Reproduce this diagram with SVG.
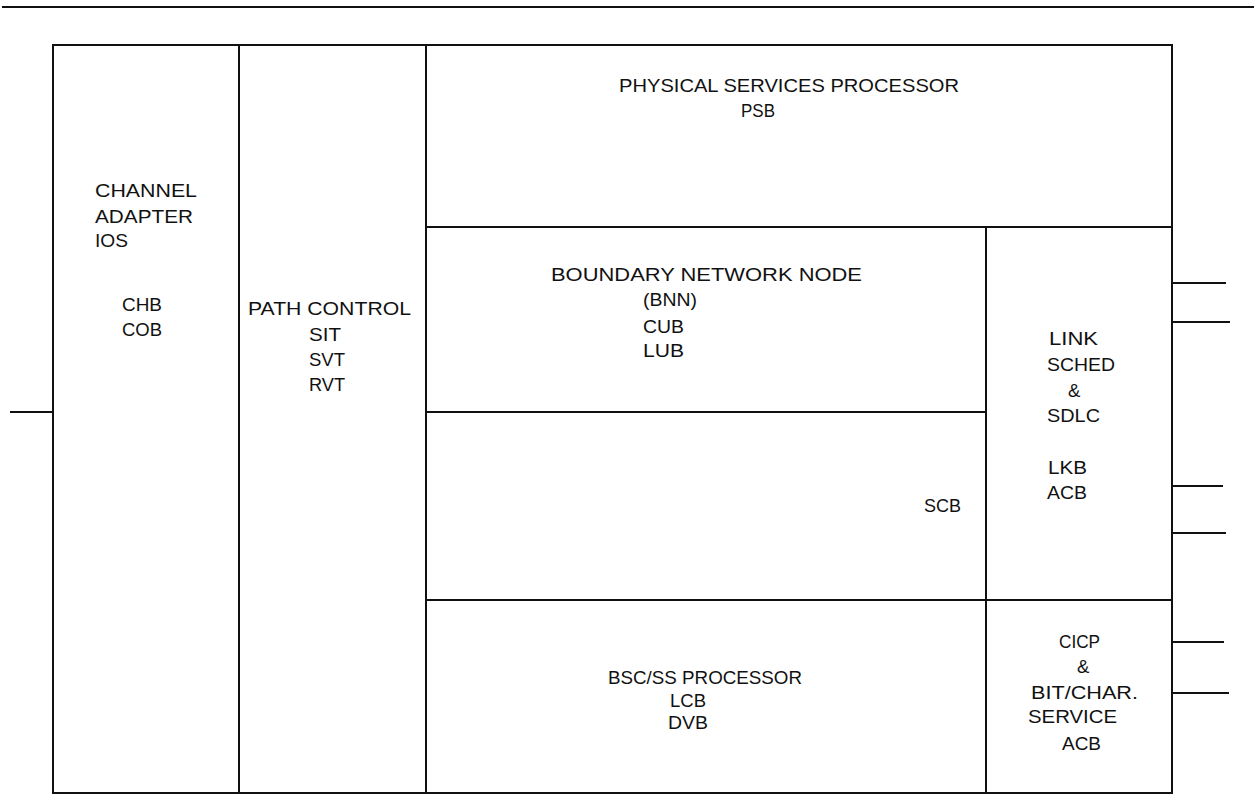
<svg xmlns="http://www.w3.org/2000/svg" width="1256" height="810" viewBox="0 0 1256 810">
<style>
text{font-family:"Liberation Sans",Arial,sans-serif;font-size:18.5px;fill:#111}
.l{stroke:#111;stroke-width:2;fill:none}
</style>
<rect width="1256" height="810" fill="#fff"/>
<g id="connectors">
<line class="l" x1="2" y1="7" x2="1254" y2="7" stroke-width="3"/>
<line class="l" x1="10" y1="412" x2="53" y2="412"/>
<line class="l" x1="1172" y1="283" x2="1226" y2="283"/>
<line class="l" x1="1172" y1="322" x2="1230" y2="322"/>
<line class="l" x1="1172" y1="486" x2="1223" y2="486"/>
<line class="l" x1="1172" y1="533" x2="1226" y2="533"/>
<line class="l" x1="1172" y1="642" x2="1224" y2="642"/>
<line class="l" x1="1172" y1="693" x2="1229" y2="693"/>
</g>
<g id="frame">
<rect class="l" x="53" y="45" width="1119" height="748"/>
</g>
<g id="channel-adapter">
<text x="95" y="197" textLength="102" lengthAdjust="spacingAndGlyphs">CHANNEL</text>
<text x="95" y="223" textLength="98" lengthAdjust="spacingAndGlyphs">ADAPTER</text>
<text x="95" y="247" textLength="33" lengthAdjust="spacingAndGlyphs">IOS</text>
<text x="122" y="311" textLength="40" lengthAdjust="spacingAndGlyphs">CHB</text>
<text x="122" y="336" textLength="40" lengthAdjust="spacingAndGlyphs">COB</text>
</g>
<g id="path-control">
<line class="l" x1="239" y1="45" x2="239" y2="793"/>
<text x="248" y="315" textLength="163" lengthAdjust="spacingAndGlyphs">PATH CONTROL</text>
<text x="309" y="341" textLength="32" lengthAdjust="spacingAndGlyphs">SIT</text>
<text x="309" y="366" textLength="36" lengthAdjust="spacingAndGlyphs">SVT</text>
<text x="309" y="391" textLength="36" lengthAdjust="spacingAndGlyphs">RVT</text>
</g>
<g id="scb-area">
<line class="l" x1="426" y1="45" x2="426" y2="793"/>
<text x="924" y="512" textLength="37" lengthAdjust="spacingAndGlyphs">SCB</text>
</g>
<g id="physical-services">
<line class="l" x1="426" y1="227" x2="1172" y2="227"/>
<text x="619" y="92" textLength="340" lengthAdjust="spacingAndGlyphs">PHYSICAL SERVICES PROCESSOR</text>
<text x="741" y="117" textLength="34" lengthAdjust="spacingAndGlyphs">PSB</text>
</g>
<g id="bnn">
<line class="l" x1="426" y1="412" x2="986" y2="412"/>
<text x="551" y="281" textLength="311" lengthAdjust="spacingAndGlyphs">BOUNDARY NETWORK NODE</text>
<text x="643" y="306" textLength="54" lengthAdjust="spacingAndGlyphs">(BNN)</text>
<text x="643" y="333" textLength="41" lengthAdjust="spacingAndGlyphs">CUB</text>
<text x="643" y="357" textLength="41" lengthAdjust="spacingAndGlyphs">LUB</text>
</g>
<g id="link-sched">
<line class="l" x1="986" y1="227" x2="986" y2="793"/>
<text x="1049" y="345" textLength="49" lengthAdjust="spacingAndGlyphs">LINK</text>
<text x="1047" y="371" textLength="68" lengthAdjust="spacingAndGlyphs">SCHED</text>
<text x="1068" y="397">&amp;</text>
<text x="1047" y="422" textLength="53" lengthAdjust="spacingAndGlyphs">SDLC</text>
<text x="1048" y="474" textLength="39" lengthAdjust="spacingAndGlyphs">LKB</text>
<text x="1047" y="499" textLength="40" lengthAdjust="spacingAndGlyphs">ACB</text>
</g>
<g id="bsc-ss">
<line class="l" x1="426" y1="600" x2="1172" y2="600"/>
<text x="608" y="684" textLength="194" lengthAdjust="spacingAndGlyphs">BSC/SS PROCESSOR</text>
<text x="670" y="707" textLength="36" lengthAdjust="spacingAndGlyphs">LCB</text>
<text x="668" y="729" textLength="40" lengthAdjust="spacingAndGlyphs">DVB</text>
</g>
<g id="cicp">
<text x="1059" y="648" textLength="41" lengthAdjust="spacingAndGlyphs">CICP</text>
<text x="1077" y="673">&amp;</text>
<text x="1031" y="699" textLength="107" lengthAdjust="spacingAndGlyphs">BIT/CHAR.</text>
<text x="1028" y="723" textLength="89" lengthAdjust="spacingAndGlyphs">SERVICE</text>
<text x="1062" y="750" textLength="39" lengthAdjust="spacingAndGlyphs">ACB</text>
</g>
</svg>
